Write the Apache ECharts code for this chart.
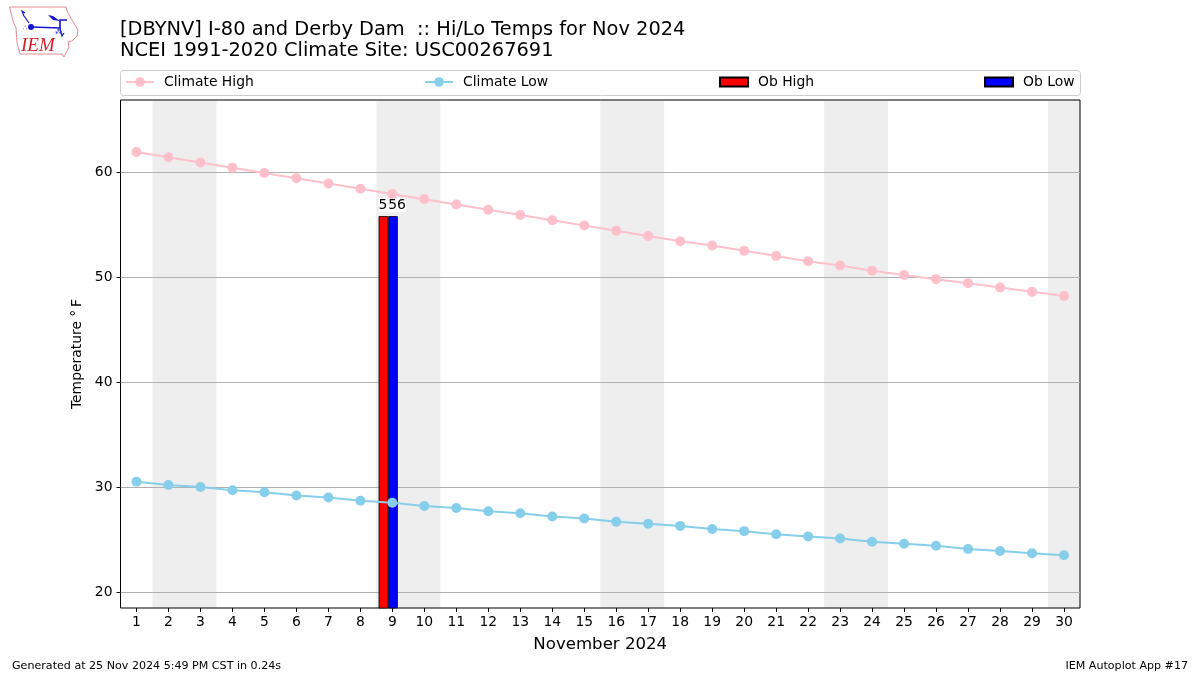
<!DOCTYPE html>
<html>
<head>
<meta charset="utf-8">
<style>html,body{margin:0;padding:0;background:#fff}#c{width:1200px;height:675px}</style>
<script src="https://cdn.jsdelivr.net/npm/echarts@6/dist/echarts.min.js"></script>
</head>
<body>
<div id="c"></div>
<script>
const days = [1,2,3,4,5,6,7,8,9,10,11,12,13,14,15,16,17,18,19,20,21,22,23,24,25,26,27,28,29,30];
const climateHigh = [61.9,61.4,60.9,60.4,59.9,59.4,58.9,58.4,57.9,57.4,56.9,56.4,55.9,55.4,54.9,54.4,53.9,53.4,53.0,52.5,52.0,51.5,51.1,50.6,50.2,49.8,49.4,49.0,48.6,48.2];
const climateLow = [30.5,30.2,30.0,29.7,29.5,29.2,29.0,28.7,28.5,28.2,28.0,27.7,27.5,27.2,27.0,26.7,26.5,26.3,26.0,25.8,25.5,25.3,25.1,24.8,24.6,24.4,24.1,23.9,23.7,23.5];
const obHigh = [[8.72, 55.8]];
const obLow = [[9.02, 55.8]];
const obLabels = ['56'];
const weekends = [[1.5,3.5],[8.5,10.5],[15.5,17.5],[22.5,24.5],[29.5,30.5]];
const yTicks = [20,30,40,50,60];
const titleLines = ['[DBYNV] I-80 and Derby Dam  :: Hi/Lo Temps for Nov 2024','NCEI 1991-2020 Climate Site: USC00267691'];
const FONT = '"DejaVu Sans"';

const chart = echarts.init(document.getElementById('c'), null, {renderer:'canvas'});
const legendBase = (name,left,iconW,iconH,icon) => ({
  show:true, data:[icon?{name:name,icon:icon}:name], left:left, top:75, orient:'horizontal',
  padding:0, itemWidth:iconW, itemHeight:iconH,
  textStyle:{fontFamily:FONT,fontSize:13.9,color:'#000',padding:[0,0,0,5]}
});
const barLabel = {
  show:true, position:'top', distance:4, offset:[4,0], formatter:()=>obLabels[0],
  fontFamily:FONT, fontSize:13.9, color:'#000', backgroundColor:'#fff', padding:[0,0,0,0]
};
chart.setOption({
  animation:false,
  backgroundColor:'#fff',
  title:[
    {text:titleLines[0],left:120,top:20,padding:0,textStyle:{fontFamily:FONT,fontSize:19.4,fontWeight:'normal',color:'#000'}},
    {text:titleLines[1],left:120,top:41.5,padding:0,textStyle:{fontFamily:FONT,fontSize:19.4,fontWeight:'normal',color:'#000'}},
    {text:'Generated at 25 Nov 2024 5:49 PM CST in 0.24s',left:12,top:661,padding:0,textStyle:{fontFamily:FONT,fontSize:11.1,fontWeight:'normal',color:'#000'}},
    {text:'IEM Autoplot App #17',right:12,top:661,padding:0,textStyle:{fontFamily:FONT,fontSize:11.1,fontWeight:'normal',color:'#000'}}
  ],
  legend:[
    legendBase('Climate High',125,28,12),
    legendBase('Climate Low',424,28,12),
    legendBase('Ob High',719,28,9,'rect'),
    legendBase('Ob Low',984,28,9,'rect')
  ],
  grid:{left:120.5,right:120,top:100,bottom:67,show:true,borderColor:'#000',borderWidth:1,backgroundColor:'transparent',containLabel:false},
  xAxis:{
    type:'value',min:0.5,max:30.5,
    name:'November 2024',nameLocation:'middle',nameGap:28,
    nameTextStyle:{fontFamily:FONT,fontSize:16.6,color:'#000'},
    axisLine:{show:false},
    axisTick:{show:true,length:4,customValues:days,lineStyle:{color:'#000'}},
    axisLabel:{show:true,customValues:days,fontFamily:FONT,fontSize:13.9,color:'#000',margin:7,formatter:v=>String(v)},
    splitLine:{show:false}
  },
  yAxis:{
    type:'value',min:18.48,max:66.86,
    name:'Temperature °\u2009F',
    nameLocation:'middle',nameGap:36,nameRotate:90,
    nameTextStyle:{fontFamily:FONT,fontSize:13.9,color:'#000'},
    axisLine:{show:false},
    axisTick:{show:true,length:4,customValues:yTicks,lineStyle:{color:'#000'}},
    axisLabel:{show:true,customValues:yTicks,fontFamily:FONT,fontSize:13.9,color:'#000',margin:8,formatter:v=>String(v)},
    splitLine:{show:true,lineStyle:{color:'#b0b0b0',width:1}}
  },
  series:[
    {type:'line',name:'weekend',data:[],z:-1,silent:true,
     markArea:{silent:true,z:-1,itemStyle:{color:'#eeeeee'},data:weekends.map(w=>[{xAxis:w[0]},{xAxis:w[1]}])}},
    {type:'bar',name:'Ob High',data:obHigh,barWidth:9.6,barGap:'-100%',z:3,clip:true,
     itemStyle:{color:'#ff0000',borderColor:'#000',borderWidth:0.8},label:barLabel},
    {type:'bar',name:'Ob Low',data:obLow,barWidth:9.6,barGap:'-100%',z:4,clip:true,
     itemStyle:{color:'#0000ff',borderColor:'#000',borderWidth:0.8},label:barLabel},
    {type:'line',name:'Climate High',data:days.map((d,i)=>[d,climateHigh[i]]),z:5,
     symbol:'circle',symbolSize:10,showSymbol:true,lineStyle:{color:'#ffc0cb',width:2},itemStyle:{color:'#ffc0cb'}},
    {type:'line',name:'Climate Low',data:days.map((d,i)=>[d,climateLow[i]]),z:5,
     symbol:'circle',symbolSize:10,showSymbol:true,lineStyle:{color:'#87ceeb',width:2},itemStyle:{color:'#87ceeb'}}
  ],
  graphic:[
    {type:'rect',silent:true,z:-10,shape:{x:120.5,y:70.5,width:960,height:25,r:3},style:{fill:'#fff',stroke:'#cccccc',lineWidth:1}},
    {type:'polygon',silent:true,shape:{points:[[9.5,7],[66,7],[68,13],[72,20],[78,30],[77,36],[72,41],[68,42],[69,47],[64,57],[62,54],[20,54],[17,43],[16,28],[13,21]]},style:{fill:'#fff',stroke:'#e58a92',lineWidth:1}},
    {type:'polyline',silent:true,shape:{points:[[31,27],[60,28],[60,20],[67,20]]},style:{fill:'none',stroke:'#1515d0',lineWidth:1.6}},
    {type:'circle',silent:true,shape:{cx:31,cy:27,r:3},style:{fill:'#1515d0'}},
    {type:'polygon',silent:true,shape:{points:[[48,15],[53,16],[60,21],[53,20]]},style:{fill:'#1515d0'}},
    {type:'polyline',silent:true,shape:{points:[[29,23],[24,16],[22,11],[25,13]]},style:{fill:'none',stroke:'#1515d0',lineWidth:1.2}},
    {type:'polyline',silent:true,shape:{points:[[60,28],[62,36],[64,33]]},style:{fill:'none',stroke:'#1515d0',lineWidth:1.2}},
    {type:'text',silent:true,style:{x:23,y:25,text:'∴',fill:'#1515d0',font:'7px "DejaVu Sans"'}},
    {type:'text',silent:true,style:{x:55,y:29,text:'⁂',fill:'#1515d0',font:'7px "DejaVu Sans"'}},
    {type:'text',silent:true,style:{x:21,y:36,text:'IEM',fill:'#d0202a',font:'italic 19px "Liberation Serif"'}}
  ]
});
</script>
</body>
</html>
